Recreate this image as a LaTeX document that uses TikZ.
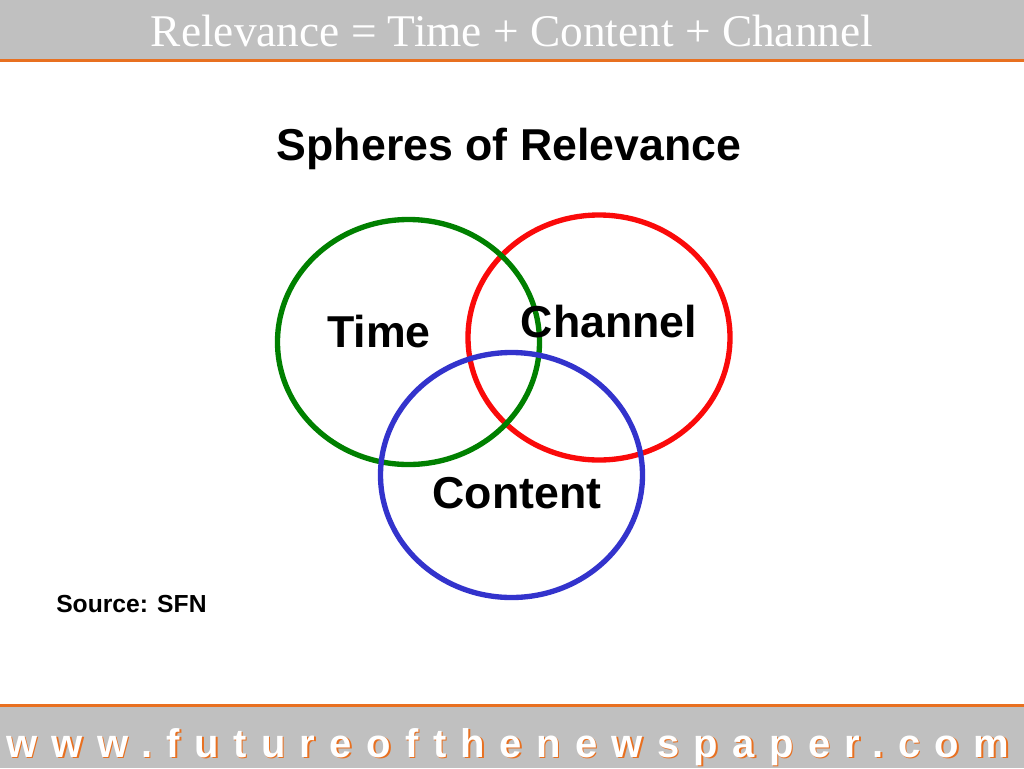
\documentclass[tikz,border=0pt]{standalone}
\usepackage{fontspec}
\setmainfont{Liberation Sans}
\newfontfamily\bannerfont{Liberation Serif}
\newfontfamily\urlfont[LetterSpace=36]{Liberation Sans}
\usetikzlibrary{shapes.geometric}

\definecolor{bannergray}{RGB}{192,192,192}
\definecolor{ruleorange}{RGB}{232,112,32}
\definecolor{timegreen}{RGB}{0,128,0}
\definecolor{channelred}{RGB}{250,10,10}
\definecolor{contentblue}{RGB}{51,51,204}

\tikzset{
  sphere/.style={draw=#1, ellipse, line width=4pt,
    minimum width=196.5pt, minimum height=183.75pt, inner sep=0pt},
  spherelabel/.style={font=\fontsize{33.5}{40}\selectfont\bfseries,
    inner sep=0pt, anchor=base},
  urltext/.style={font=\urlfont\fontsize{30}{34}\selectfont\bfseries,
    inner sep=0pt, anchor=base west},
}

\begin{document}
\begin{tikzpicture}[x=0.75pt,y=-0.75pt]
  \useasboundingbox (0,0) rectangle (1024,768);
  % top and bottom bands
  \fill[bannergray] (0,0) rectangle (1024,59);
  \fill[ruleorange] (0,59) rectangle (1024,62);
  \fill[ruleorange] (0,704) rectangle (1024,707);
  \fill[bannergray] (0,707) rectangle (1024,768);
  \node[font=\bannerfont\fontsize{34}{40}\selectfont, text=white,
    inner sep=0pt, anchor=base] (banner) at (512,46)
    {Relevance = Time + Content + Channel};
  \node[spherelabel] (title) at (509,160) {Spheres of Relevance};
  % the three spheres
  \node[sphere=channelred] (channel) at (599,337.5) {};
  \node[sphere=timegreen] (time) at (408.5,342) {};
  \node[sphere=contentblue] (content) at (511.5,475) {};
  \node[spherelabel] (timelabel) at (379,347) {Time};
  \node[spherelabel] (channellabel) at (609,337) {Channel};
  \node[spherelabel] (contentlabel) at (517,508) {Content};
  \node[font=\fontsize{18.5}{22}\selectfont\bfseries, inner sep=0pt,
    anchor=base west] (source) at (56,612) {Source: SFN};
  % footer address with its shadow
  \node[urltext, text=ruleorange] (urlshadow) at (7.5,758.5)
    {www.futureofthenewspaper.com};
  \node[urltext, text=white] (url) at (6,757)
    {www.futureofthenewspaper.com};
\end{tikzpicture}
\end{document}
